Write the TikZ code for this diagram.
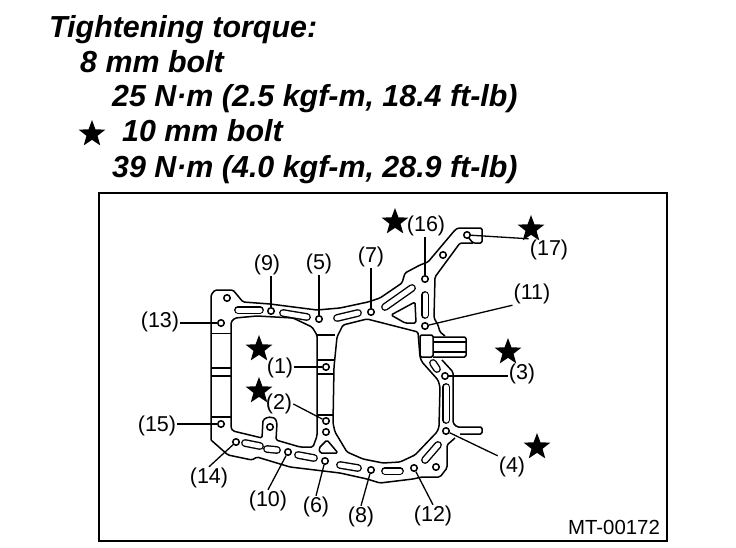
\documentclass[tikz,border=0pt]{standalone}
\usepackage{fontspec}
\setmainfont{Liberation Sans}
\usetikzlibrary{shapes.geometric, positioning}

\begin{document}
\begin{tikzpicture}[
    x=1pt, y=-1pt,
    outline/.style={line width=1.5pt, line join=round, rounded corners=1.5pt},
    slot/.style={double, double distance=5pt, line width=1.4pt, line cap=round},
    hole/.style={circle, draw, line width=1.5pt, inner sep=0pt, minimum size=6.5pt},
    leader/.style={line width=1.3pt},
    callout/.style={font=\fontsize{21.5}{23}\selectfont, inner sep=1pt},
    heading/.style={anchor=base west, inner sep=0pt, font=\fontsize{30.4}{32}\selectfont\bfseries\itshape},
    bigstar/.style={star, star points=5, star point ratio=2.4, fill=black, inner sep=0pt, minimum size=#1},
    bigstar/.default=28pt
  ]
    \useasboundingbox (0,0) rectangle (736,548);

    % Heading
    \node[heading] (title) at (49,38) {Tightening torque:};
    \node[heading] (bolta) at (80,73) {8 mm bolt};
    \node[heading] (torquea) at (112,107) {25 N·m (2.5 kgf-m, 18.4 ft-lb)};
    \node[bigstar] (keystar) at (92,134) {};
    \node[heading] (boltb) at (122,142) {10 mm bolt};
    \node[heading] (torqueb) at (112,178) {39 N·m (4.0 kgf-m, 28.9 ft-lb)};

    % Frame
    \draw[line width=1.8pt] (99,193) rectangle (667,541);

    % Outer edge of the plate
    \draw[outline] (211,440) -- (211,295) -- (215,290) -- (233,290) -- (243,302) -- (270,304)
      -- (317,310) -- (340,308) -- (368,302) -- (380,298) -- (402,283) -- (405,273) -- (420,265)
      -- (428,262) -- (455,230) -- (458,228) -- (482,228) -- (482,243) -- (473,243) -- (468,237);
    \draw[outline] (473,243) -- (460,243) -- (435,277) -- (434,318) -- (438,325) -- (440,332) -- (445,336);
    \draw[outline] (442,360) -- (453,372) -- (453,423) -- (457,427) -- (482,427) -- (482,434) -- (460,434);
    \draw[outline] (455,438) -- (447,445) -- (447,468) -- (440,477) -- (422,477) -- (413,479) -- (380,483)
      -- (367,479) -- (340,473) -- (290,467) -- (257,457) -- (252,460) -- (228,455) -- (211,440);

    % Left pocket with its tab
    \draw[outline] (231,428) -- (231,322) -- (235,318) -- (257,316) -- (293,318) -- (312,327)
      -- (317,335) -- (317,436) -- (313,447) -- (300,447) -- (276,440) -- (277,423) -- (275,418)
      -- (268,417) -- (263,420) -- (262,438) -- (233,431) -- cycle;

    % Main opening
    \draw[outline] (337,337) -- (343,325) -- (367,319) -- (418,332) -- (420,357) -- (422,362)
      -- (438,380) -- (440,387) -- (439,427) -- (437,432) -- (415,455) -- (400,462) -- (383,463)
      -- (363,459) -- (347,452) -- (335,432) -- (333,423) -- (334,367) -- cycle;

    % Ribs
    \draw[line width=0.9pt] (211,333) -- (231,333);
    \draw[outline] (211,368) -- (231,368);
    \draw[outline] (211,376) -- (231,376);
    \draw[outline] (211,417) -- (231,417);
    \draw[outline] (317,335) -- (335,335);
    \draw[outline] (317,360) -- (335,360);
    \draw[outline] (317,374) -- (333,374);
    \draw[outline] (317,415) -- (333,415);

    % Boss at the right
    \draw[outline] (420,335) rectangle (433,357);
    \draw[outline] (433,337) -- (466,337) -- (466,357) -- (433,357);
    \draw[outline] (433,342) -- (466,342);
    \draw[outline] (433,352) -- (466,352);

    % Slots
    \draw[slot] (238,310) -- (260,310);
    \draw[slot] (283,313) -- (307,317);
    \draw[slot] (337,318) -- (358,313);
    \draw[slot] (385,307) -- (412,288);
    \draw[slot] (425,295) -- (425,315);
    \draw[slot] (433,363) -- (437,369);
    \draw[slot] (446,387) -- (446,420);
    \draw[slot] (425,460) -- (438,445);
    \draw[slot] (385,471) -- (400,471);
    \draw[slot] (340,465) -- (358,468);
    \draw[slot] (298,455) -- (314,458);
    \draw[slot] (267,449) -- (277,450);
    \draw[slot] (245,443) -- (260,446);

    % Triangular pockets
    \draw[outline] (391,315) -- (415,302) -- (416,323) -- (405,323) -- cycle;
    \draw[outline] (319,448) -- (327,440) -- (338,453) -- (320,453) -- cycle;

    % Holes
    \foreach \hname/\hx/\hy in {h1/326/367, h2/326/421, h3/445/376, h4/446/431, h5/319/319,
        h6/325/461, h7/371/312, h8/371/470, h9/271/311, h10/288/452, h11/425/326, h12/414/468,
        h13/221/323, h14/236/442, h15/221/424, h16/425/279, h17/467/235,
        ha/227/298, hb/443/255, hc/326/432, hd/270/427, he/436/467}
      \node[hole, fill=white] (\hname) at (\hx,\hy) {};

    % Callouts
    \node[callout] (lbl9) at (267,265) {(9)};
    \node[callout] (lbl5) at (319,264) {(5)};
    \node[callout] (lbl7) at (371,257) {(7)};
    \node[callout] (lbl16) at (426,226) {(16)};
    \node[callout] (lbl17) at (549,250) {(17)};
    \node[callout] (lbl11) at (532,294) {(11)};
    \node[callout] (lbl13) at (160,322) {(13)};
    \node[callout] (lbl1) at (280,368) {(1)};
    \node[callout] (lbl2) at (279,404) {(2)};
    \node[callout] (lbl15) at (157,426) {(15)};
    \node[callout] (lbl14) at (209,478) {(14)};
    \node[callout] (lbl10) at (268,501) {(10)};
    \node[callout] (lbl6) at (316,507) {(6)};
    \node[callout] (lbl8) at (361,517) {(8)};
    \node[callout] (lbl12) at (433,516) {(12)};
    \node[callout] (lbl3) at (522,374) {(3)};
    \node[callout] (lbl4) at (512,467) {(4)};
    \node[callout, font=\fontsize{20.4}{22}\selectfont] (code) at (614,527) {MT-00172};

    % Stars
    \node[bigstar] (star16) at (395,222) {};
    \node[bigstar] (star17) at (531,229) {};
    \node[bigstar] (star1) at (259,349) {};
    \node[bigstar] (star2) at (259,391) {};
    \node[bigstar] (star3) at (508,352) {};
    \node[bigstar] (star4) at (537,447) {};

    % Leaders
    \draw[leader] (h9) -- (h9 |- lbl9.south);
    \draw[leader] (h5) -- (h5 |- lbl5.south);
    \draw[leader] (h7) -- (h7 |- lbl7.south);
    \draw[leader] (h16) -- (h16 |- lbl16.south);
    \draw[leader] (h17) -- (lbl17.north west);
    \draw[leader] (h11) -- (lbl11.south west);
    \draw[leader] (h13) -- (lbl13.east |- h13);
    \draw[leader] (h1) -- (lbl1.east |- h1);
    \draw[leader] (h2) -- (lbl2.east);
    \draw[leader] (h15) -- (lbl15.east |- h15);
    \draw[leader] (h14) -- (lbl14.north);
    \draw[leader] (h10) -- (lbl10.north);
    \draw[leader] (h6) -- (lbl6.north);
    \draw[leader] (h8) -- (lbl8.north);
    \draw[leader] (h12) -- (lbl12.north);
    \draw[leader] (h3) -- (lbl3.west |- h3);
    \draw[leader] (h4) -- (lbl4.north west);

  \end{tikzpicture}
\end{document}
